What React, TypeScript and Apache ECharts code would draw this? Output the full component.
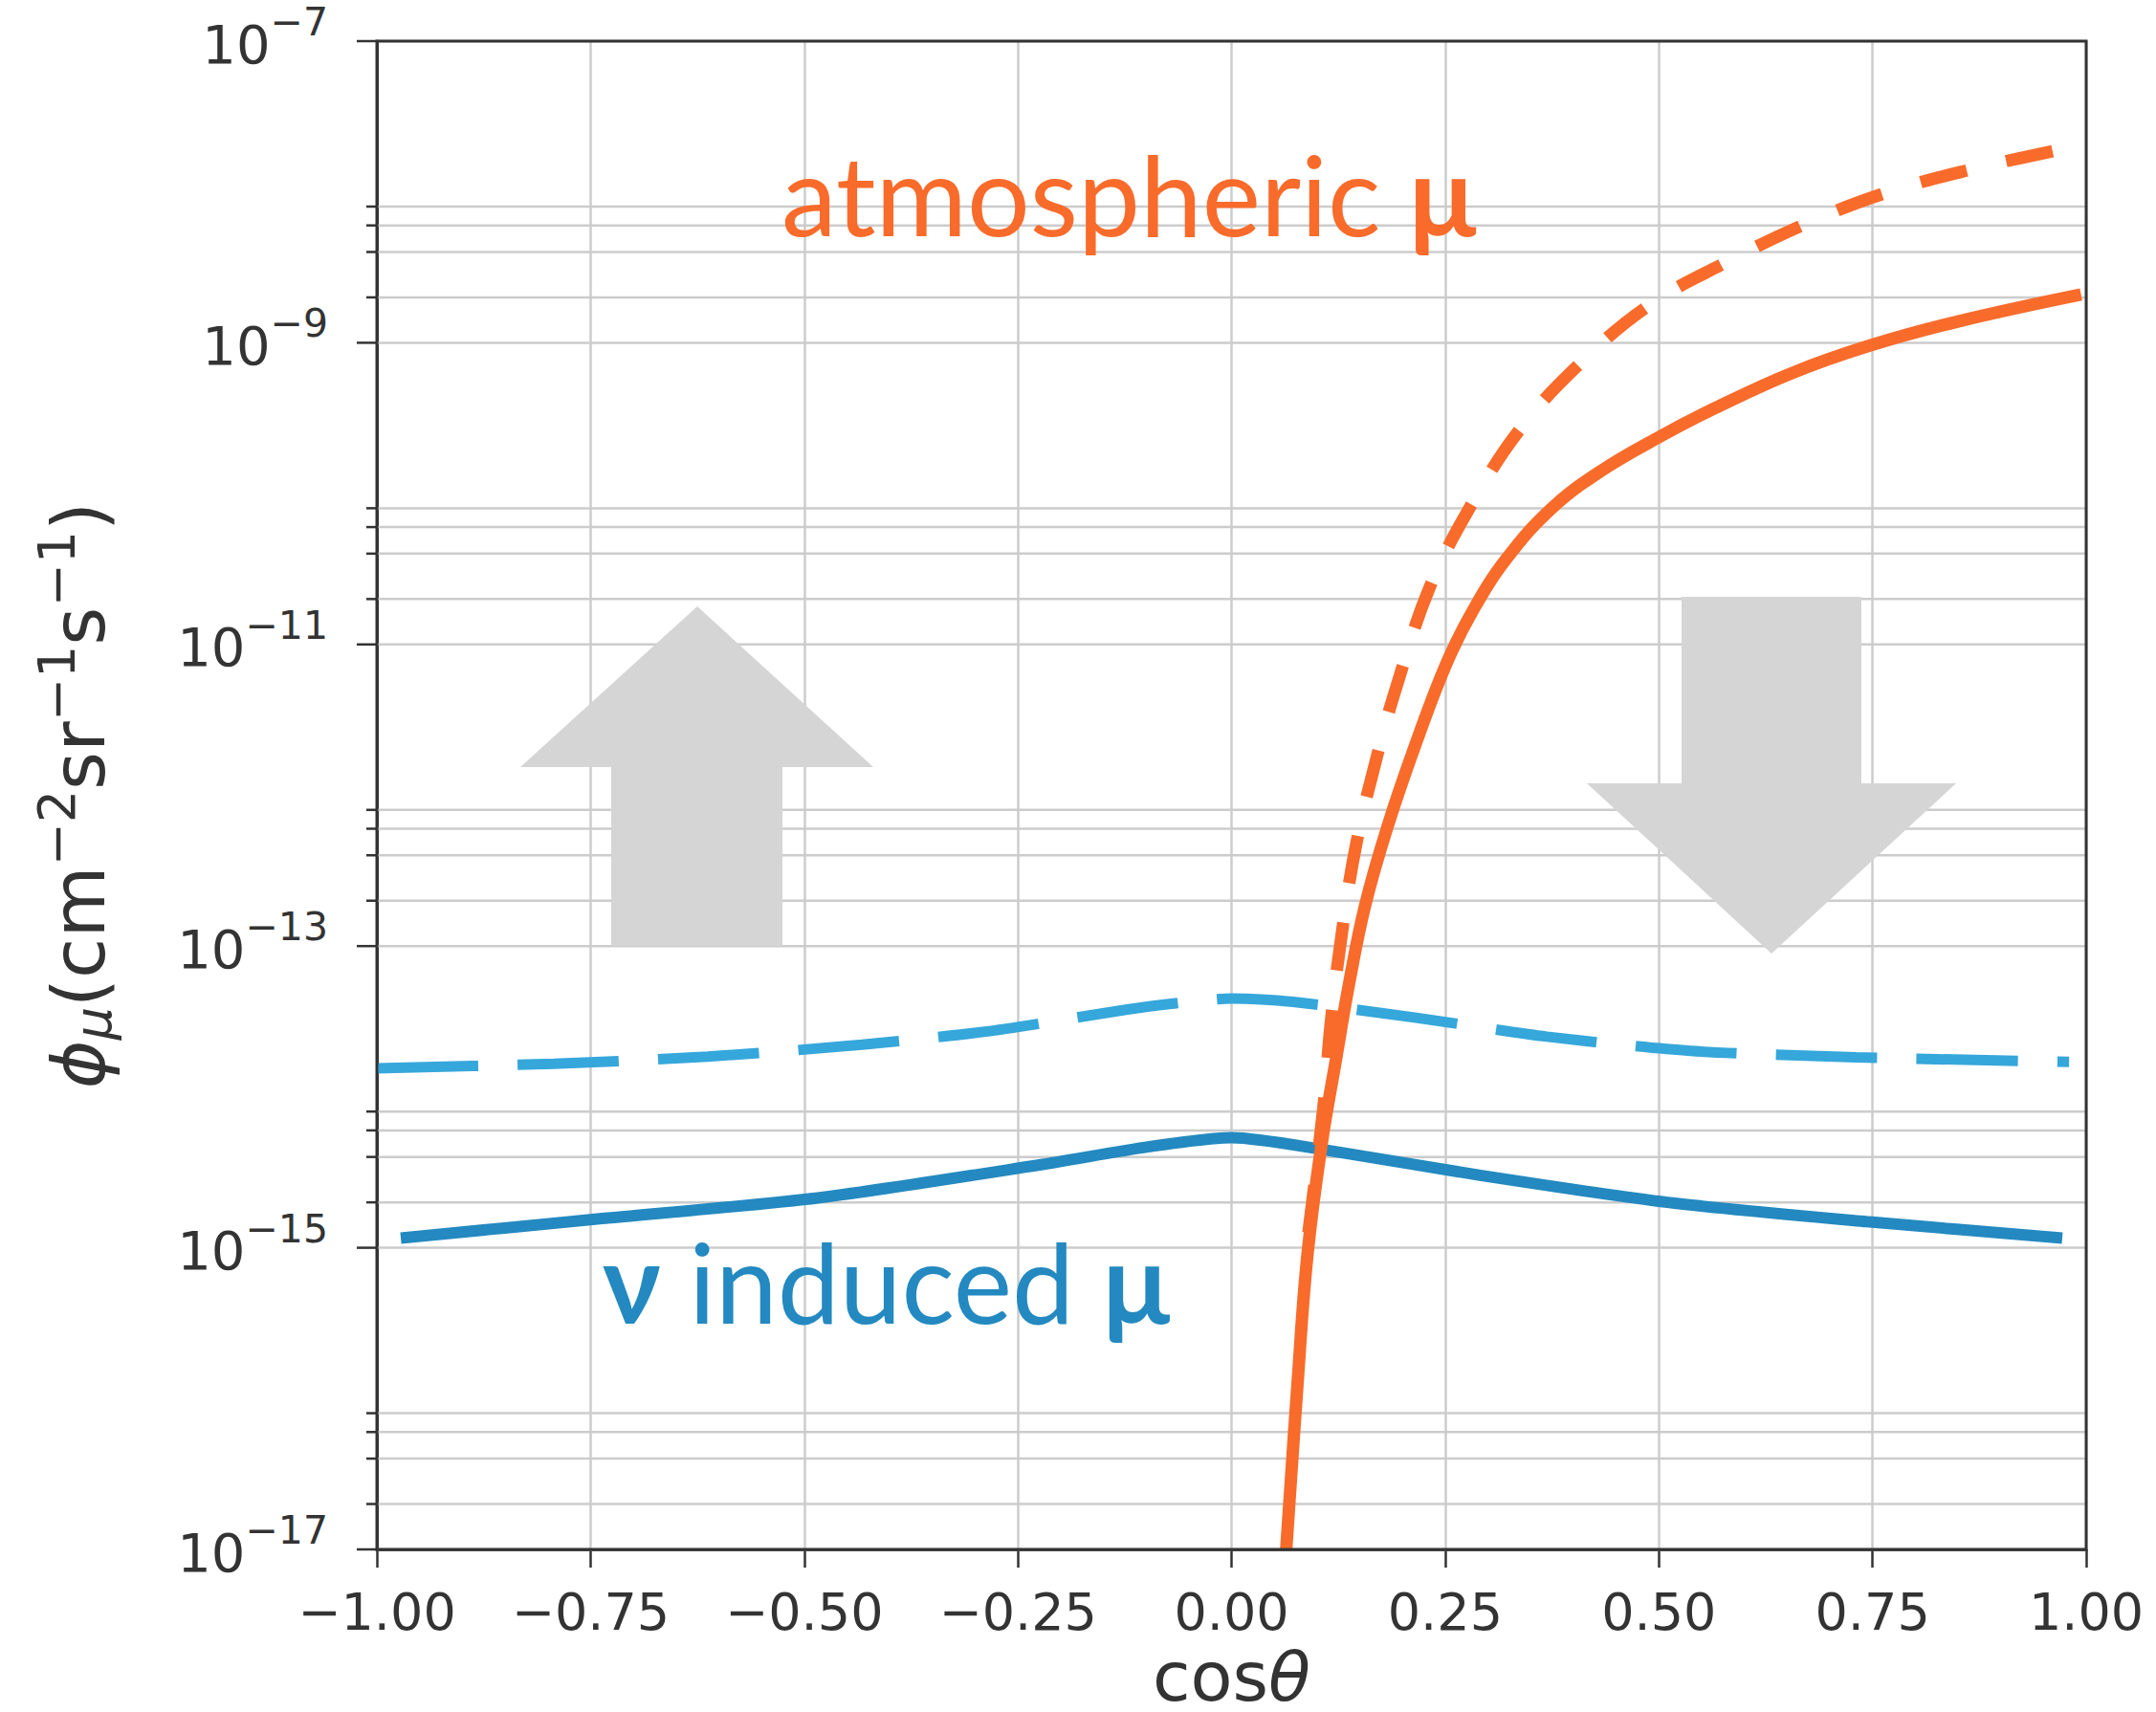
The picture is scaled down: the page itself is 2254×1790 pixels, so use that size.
import React, { useEffect, useRef } from "react";
import * as echarts from "echarts";

// ---- data ----
// atmospheric muon flux (solid, orange)
const atmSolidX = [0.064, 0.0775, 0.0887, 0.1055, 0.1223, 0.1372, 0.1559, 0.1819, 0.2155, 0.252, 0.284, 0.322, 0.374, 0.432, 0.502, 0.567, 0.656, 0.746, 0.849, 0.994];
const atmSolidY = [1.0e-17, 1.32e-16, 8.81e-16, 4.9e-15, 1.78e-14, 5.5e-14, 1.82e-13, 6.03e-13, 2.19e-12, 7.59e-12, 1.74e-11, 3.72e-11, 7.94e-11, 1.41e-10, 2.4e-10, 3.72e-10, 6.31e-10, 9.55e-10, 1.38e-9, 2.09e-9];
// atmospheric muon flux (dashed, orange)
const atmDashX = [0.09, 0.1073, 0.1166, 0.1297, 0.1464, 0.1707, 0.193, 0.232, 0.281, 0.338, 0.406, 0.489, 0.579, 0.672, 0.769, 0.872, 0.971, 1.0];
const atmDashY = [1.26e-15, 8.32e-15, 3.27e-14, 1.29e-13, 4.9e-13, 1.86e-12, 5.25e-12, 2.4e-11, 8.51e-11, 2.69e-10, 7.14e-10, 1.78e-9, 3.42e-9, 6.15e-9, 1.0e-8, 1.44e-8, 1.92e-8, 2.09e-8];
// neutrino induced muon flux (solid, dark blue)
const nuSolidX = [-0.972, -0.742, -0.484, -0.225, -0.096, 0.0, 0.11, 0.291, 0.51, 0.743, 0.972];
const nuSolidY = [1.16e-15, 1.55e-15, 2.14e-15, 3.54e-15, 4.68e-15, 5.37e-15, 4.45e-15, 3.02e-15, 2.0e-15, 1.49e-15, 1.16e-15];
// neutrino induced muon flux (dashed, light blue)
const nuDashX = [-1.0, -0.793, -0.613, -0.432, -0.277, -0.122, -0.05, 0.0, 0.072, 0.214, 0.369, 0.537, 0.731, 0.98];
const nuDashY = [1.55e-14, 1.66e-14, 1.85e-14, 2.22e-14, 2.76e-14, 3.8e-14, 4.27e-14, 4.5e-14, 4.27e-14, 3.36e-14, 2.51e-14, 2.02e-14, 1.83e-14, 1.71e-14];

// y axis ticks
const yMajorTicks = [1e-17, 1e-15, 1e-13, 1e-11, 1e-9, 1e-7];
const yMinorTicks = [
  2e-17, 4e-17, 6e-17, 8e-17,
  2e-15, 4e-15, 6e-15, 8e-15,
  2e-13, 4e-13, 6e-13, 8e-13,
  2e-11, 4e-11, 6e-11, 8e-11,
  2e-9, 4e-9, 6e-9, 8e-9,
];

const ORANGE = "#f86b2b";
const BLUE_DARK = "#2389c0";
const BLUE_LIGHT = "#35a7db";
const TEXT = "#333333";
const GRID = "#cccccc";
const ARROW = "#d5d5d5";
const FONT = "DejaVu Sans";

const G_LEFT = 394;
const G_TOP = 43;
const G_W = 1787;
const G_H = 1577;

const pairs = (xs: number[], ys: number[]) => xs.map((x, i) => [x, ys[i]]);

export default function App() {
  const ref = useRef<HTMLDivElement>(null);

  useEffect(() => {
    if (!ref.current) return;
    const chart = echarts.init(ref.current, undefined, { renderer: "svg" });

    const tickData = [
      ...yMajorTicks.map((v) => [0, v, 1]),
      ...yMinorTicks.map((v) => [0, v, 0]),
    ];

    const lineCommon = {
      type: "line",
      showSymbol: false,
      symbol: "none",
      silent: true,
    };

    const option: any = {
      animation: false,
      backgroundColor: "#ffffff",
      grid: {
        left: G_LEFT,
        top: G_TOP,
        width: G_W,
        height: G_H,
        containLabel: false,
        outerBoundsMode: "none",
      },
      xAxis: {
        type: "value",
        min: -1,
        max: 1,
        interval: 0.25,
        name: "{t|cos}{it|θ}",
        nameLocation: "middle",
        nameGap: 97,
        nameMoveOverlap: false,
        nameTextStyle: {
          rich: {
            t: { fontFamily: FONT, fontSize: 72, color: TEXT },
            it: { fontFamily: FONT, fontSize: 72, fontStyle: "italic", color: TEXT },
          },
        },
        axisLine: { show: true, onZero: false, lineStyle: { color: TEXT, width: 3 } },
        axisTick: { show: true, length: 19, lineStyle: { color: TEXT, width: 2.5 } },
        axisLabel: {
          margin: 38,
          fontFamily: FONT,
          fontSize: 54,
          color: TEXT,
          formatter: (v: number) => (v < 0 ? "−" : "") + Math.abs(v).toFixed(2),
        },
        splitLine: { show: true, lineStyle: { color: GRID, width: 2.5 } },
      },
      yAxis: {
        type: "log",
        logBase: 10,
        min: 1e-17,
        max: 1e-7,
        name: "{phi|ϕ}{sub|μ}{t|(cm}{sup|−2}{t|sr}{sup|−1}{t|s}{sup|−1}{t|)}",
        nameLocation: "middle",
        nameRotate: 90,
        nameGap: 262,
        nameMoveOverlap: false,
        nameTextStyle: {
          rich: {
            phi: { fontFamily: FONT, fontSize: 77, fontStyle: "italic", color: TEXT },
            sub: { fontFamily: FONT, fontSize: 54, fontStyle: "italic", color: TEXT, padding: [30, 0, 0, 0] },
            t: { fontFamily: FONT, fontSize: 77, color: TEXT },
            sup: { fontFamily: FONT, fontSize: 54, color: TEXT, padding: [0, 0, 46, 0] },
          },
        },
        axisLine: { show: true, onZero: false, lineStyle: { color: TEXT, width: 3 } },
        axisTick: { show: false },
        splitLine: { show: false },
        minorTick: { show: false },
        axisLabel: { show: false },
      },
      series: [
        {
          type: "custom",
          z: 1,
          silent: true,
          clip: false,
          data: tickData,
          encode: { x: 0, y: 1 },
          renderItem: (params: any, api: any) => {
            const v = api.value(1);
            const major = api.value(2) === 1;
            const a = api.coord([-1, v]);
            const b = api.coord([1, v]);
            const len = major ? 21 : 11;
            const children: any[] = [
              {
                type: "line",
                shape: { x1: a[0], y1: a[1], x2: b[0], y2: b[1] },
                style: { stroke: GRID, lineWidth: 2.5 },
              },
              {
                type: "line",
                shape: { x1: a[0] - len, y1: a[1], x2: a[0], y2: a[1] },
                style: { stroke: TEXT, lineWidth: 2.5 },
              },
            ];
            if (major) {
              const e = Math.round(Math.log10(v));
              children.push({
                type: "text",
                x: a[0] - 51,
                y: a[1] + 3,
                style: {
                  text: "{b|10}{s|−" + -e + "}",
                  align: "right",
                  verticalAlign: "middle",
                  rich: {
                    b: { fontFamily: FONT, fontSize: 56, fill: TEXT },
                    s: { fontFamily: FONT, fontSize: 41, fill: TEXT, padding: [0, 0, 46, 0] },
                  },
                },
              });
            }
            return { type: "group", children };
          },
        },
        {
          ...lineCommon,
          name: "nu dashed",
          data: pairs(nuDashX, nuDashY),
          smooth: 0.25,
          z: 3,
          lineStyle: { color: BLUE_LIGHT, width: 11, type: [106, 41], cap: "butt" },
        },
        {
          ...lineCommon,
          name: "nu solid",
          data: pairs(nuSolidX, nuSolidY),
          smooth: 0.25,
          z: 3,
          lineStyle: { color: BLUE_DARK, width: 12 },
        },
        {
          ...lineCommon,
          name: "atm dashed",
          data: pairs(atmDashX, atmDashY),
          smooth: 0.4,
          z: 4,
          lineStyle: { color: ORANGE, width: 13, type: [50, 42], cap: "butt" },
        },
        {
          ...lineCommon,
          name: "atm solid",
          data: pairs(atmSolidX, atmSolidY),
          smooth: 0.4,
          z: 4,
          lineStyle: { color: ORANGE, width: 13 },
        },
      ],
      graphic: [
        {
          type: "polygon",
          z: 2,
          silent: true,
          shape: {
            points: [
              [729, 634], [913, 802], [818, 802], [818, 989], [639, 989], [639, 802], [544, 802],
            ],
          },
          style: { fill: ARROW },
        },
        {
          type: "polygon",
          z: 2,
          silent: true,
          shape: {
            points: [
              [1758, 624], [1946, 624], [1946, 819], [2045, 819], [1852, 997], [1659, 819], [1758, 819],
            ],
          },
          style: { fill: ARROW },
        },
        {
          type: "text",
          z: 6,
          silent: true,
          x: 817,
          y: 202,
          style: {
            text: "{a|atmospheric }{b|μ}",
            align: "left",
            verticalAlign: "middle",
            rich: {
              a: { fontFamily: "Lato", fontSize: 116, fill: ORANGE },
              b: { fontFamily: "Lato", fontSize: 116, fontWeight: "bold", fill: ORANGE },
            },
          },
        },
        {
          type: "text",
          z: 6,
          silent: true,
          x: 630,
          y: 1339,
          style: {
            text: "{b|ν}{a| induced }{b|μ}",
            align: "left",
            verticalAlign: "middle",
            rich: {
              a: { fontFamily: "Lato", fontSize: 116, fill: BLUE_DARK },
              b: { fontFamily: "Lato", fontSize: 116, fontWeight: "bold", fill: BLUE_DARK },
            },
          },
        },
        {
          type: "rect",
          z: 7,
          silent: true,
          shape: { x: G_LEFT, y: G_TOP, width: G_W, height: G_H },
          style: { fill: "none", stroke: TEXT, lineWidth: 3 },
        },
      ],
    };

    chart.setOption(option);
    return () => chart.dispose();
  }, []);

  return (
    <div
      ref={ref}
      style={{ position: "absolute", left: 0, top: 0, width: 2254, height: 1790, background: "#fff" }}
    />
  );
}
